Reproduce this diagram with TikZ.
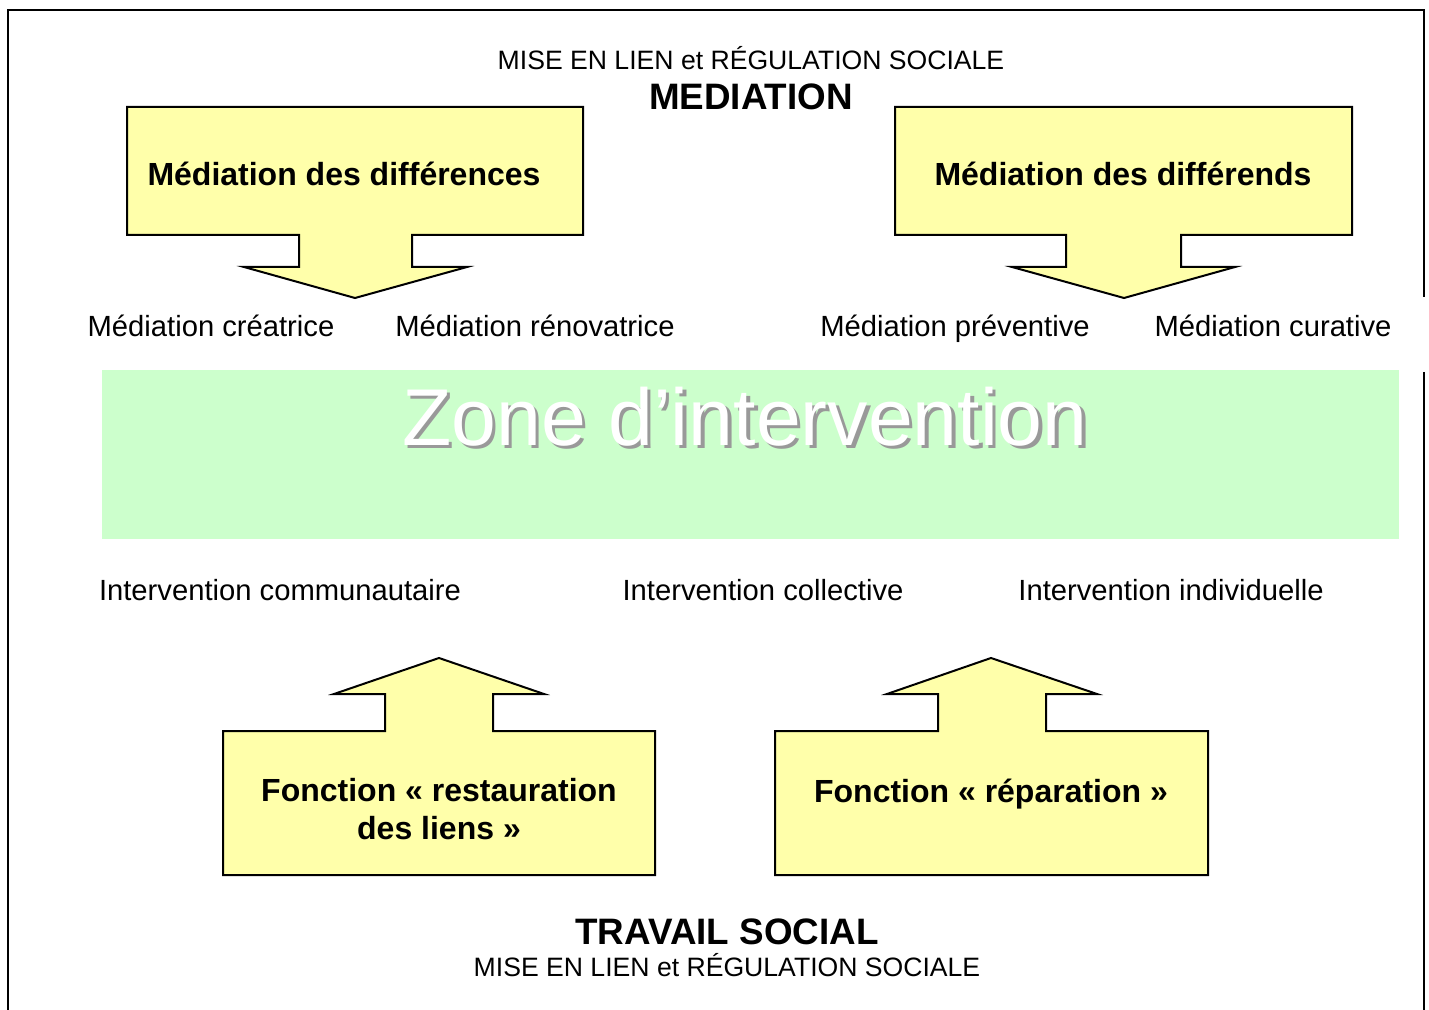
\documentclass[tikz,border=0pt]{standalone}
\usepackage{fontspec}
\setmainfont{Liberation Sans}
\usetikzlibrary{calc}
\definecolor{jaunepale}{RGB}{255,255,170}
\definecolor{vertzone}{RGB}{204,255,204}
\tikzstyle{fleche} = [draw=black, line width=1pt, fill=jaunepale, line join=miter]
\tikzstyle{cadre} = [draw=black, line width=1pt]
\tikzstyle{boite} = [font=\fontsize{16}{19}\selectfont\bfseries, align=center, inner sep=0pt, anchor=base]
\tikzstyle{etiquette} = [font=\fontsize{14.6}{17}\selectfont, inner sep=0pt, anchor=base]
\tikzstyle{entete} = [font=\fontsize{13.3}{16}\selectfont, inner sep=0pt, anchor=base]
\tikzstyle{grandtitre} = [font=\fontsize{18.4}{22}\selectfont\bfseries, inner sep=0pt, anchor=base]
\tikzstyle{zone} = [font=\fontsize{40.3}{46}\selectfont, inner sep=0pt, anchor=base, text=white]
\newcommand{\ombrage}[1]{\makebox[0pt][l]{\hspace{1.75pt}\raisebox{-1.75pt}{\color{black!40}#1}}#1}

\begin{document}
\begin{tikzpicture}[x=0.5pt, y=-0.5pt]

        \useasboundingbox (0,0) rectangle (1429,1010);

        \draw [cadre] (8,1012) -- (8,10) -- (1424,10) -- (1424,297);
        \draw [cadre] (1424,372) -- (1424,1012);

        \node (h1) [entete] at (751,69.5) {MISE EN LIEN et RÉGULATION SOCIALE};
        \node (h2) [grandtitre] at (751,110) {MEDIATION};

        \draw [fleche] (127,107) -- (583,107) -- (583,235) -- (412,235) -- (412,267) -- (467,267)
            -- (355,298) -- (244,267) -- (299,267) -- (299,235) -- (127,235) -- cycle;
        \node (M1) [boite] at (344,185.5) {Médiation des différences};

        \draw [fleche] (895,107) -- (1352,107) -- (1352,235) -- (1181,235) -- (1181,267) -- (1235,267)
            -- (1124,298) -- (1012,267) -- (1066,267) -- (1066,235) -- (895,235) -- cycle;
        \node (M2) [boite] at (1123,185.5) {Médiation des différends};

        \node (m1) [etiquette] at (211,336.5) {Médiation créatrice};
        \node (m2) [etiquette] at (535,336.5) {Médiation rénovatrice};
        \node (m3) [etiquette] at (955,336.5) {Médiation préventive};
        \node (m4) [etiquette] at (1273,336.5) {Médiation curative};

        \fill [vertzone] (102,370) rectangle (1399,539);
        \node (Z) [zone] at (745,445) {\ombrage{Zone d’intervention}};

        \node (i1) [etiquette] at (280,600.5) {Intervention communautaire};
        \node (i2) [etiquette] at (763,600.5) {Intervention collective};
        \node (i3) [etiquette] at (1171,600.5) {Intervention individuelle};

        \draw [fleche] (223,875) -- (223,731) -- (385,731) -- (385,694) -- (334,694) -- (439,658)
            -- (544,694) -- (493,694) -- (493,731) -- (655,731) -- (655,875) -- cycle;
        \node (F1) [boite] at (439,839.5) {Fonction « restauration\\des liens »};

        \draw [fleche] (775,875) -- (775,731) -- (938,731) -- (938,694) -- (887,694) -- (991,658)
            -- (1097,694) -- (1046,694) -- (1046,731) -- (1208,731) -- (1208,875) -- cycle;
        \node (F2) [boite] at (991,802.5) {Fonction « réparation »};

        \node (b1) [grandtitre] at (727,944) {TRAVAIL SOCIAL};
        \node (b2) [entete] at (727,976.5) {MISE EN LIEN et RÉGULATION SOCIALE};

    \end{tikzpicture}
\end{document}
